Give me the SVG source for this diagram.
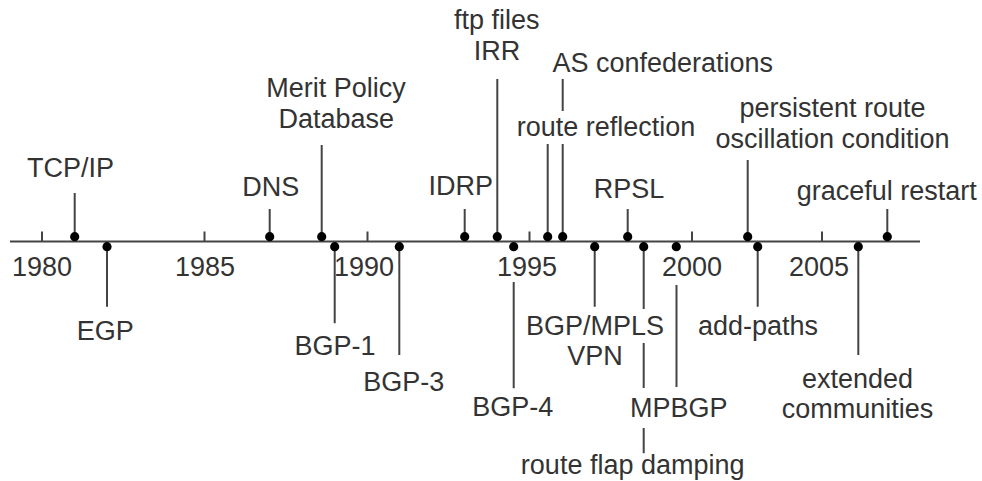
<svg xmlns="http://www.w3.org/2000/svg" width="982" height="481" viewBox="0 0 982 481">
<style>
text{font-family:"Liberation Sans",Arial,sans-serif;font-size:27px;fill:#333;text-anchor:middle}
.ln{stroke:#444;stroke-width:2;fill:none}
.dot{fill:#000}
</style>
<rect width="982" height="481" fill="#fff"/>
<g id="axis">
<line class="ln" x1="10" y1="241.5" x2="920" y2="241.5"/>
<path class="ln" d="M42 231.5V241.5M204.5 231.5V241.5M367.5 231.5V241.5M529.5 231.5V241.5M692 231.5V241.5M822 231.5V241.5"/>
<text x="42" y="276">1980</text>
<text x="205" y="276">1985</text>
<text x="364" y="276">1990</text>
<text x="527" y="276">1995</text>
<text x="692" y="276">2000</text>
<text x="819" y="276">2005</text>
</g>
<g id="connectors">
<path class="ln" d="M74.7 193V236.7M269.7 209V236.7M321.7 145V236.7M464.7 209V236.7M497.3 79V236.7M547.7 144V236.7M562.7 79V111M562.7 144V236.7M627.7 209V236.7M747.7 160V236.7M887.3 209V236.7"/>
<path class="ln" d="M107 246.7V306.7M334.7 246.7V323.3M399.3 246.7V355M513.7 282V388.3M594.7 246.7V306.7M643.7 246.7V309M643.7 343V388M643.7 428V453.3M676.5 285V387M757.7 246.7V306.7M858.3 246.7V355"/>
</g>
<g id="n-tcpip"><circle class="dot" cx="74.7" cy="236.7" r="4.6"/><text x="70.5" y="176.7">TCP/IP</text></g>
<g id="n-egp"><circle class="dot" cx="107" cy="246.7" r="4.6"/><text x="105.3" y="339.5">EGP</text></g>
<g id="n-dns"><circle class="dot" cx="269.7" cy="236.7" r="4.6"/><text x="270.8" y="196">DNS</text></g>
<g id="n-merit"><circle class="dot" cx="321.7" cy="236.7" r="4.6"/><text x="336" y="97.3">Merit Policy</text><text x="336.3" y="127.7">Database</text></g>
<g id="n-bgp1"><circle class="dot" cx="334.7" cy="246.7" r="4.6"/><text x="335" y="355">BGP-1</text></g>
<g id="n-bgp3"><circle class="dot" cx="399.3" cy="246.7" r="4.6"/><text x="403.7" y="390.7">BGP-3</text></g>
<g id="n-idrp"><circle class="dot" cx="464.7" cy="236.7" r="4.6"/><text x="460.8" y="195">IDRP</text></g>
<g id="n-irr"><circle class="dot" cx="497.3" cy="236.7" r="4.6"/><text x="496.7" y="29.3">ftp files</text><text x="497" y="60">IRR</text></g>
<g id="n-bgp4"><circle class="dot" cx="513.7" cy="246.7" r="4.6"/><text x="512.7" y="416">BGP-4</text></g>
<g id="n-rr"><circle class="dot" cx="547.7" cy="236.7" r="4.6"/><text x="606" y="136">route reflection</text></g>
<g id="n-asconf"><circle class="dot" cx="562.7" cy="236.7" r="4.6"/><text x="662.8" y="71.7">AS confederations</text></g>
<g id="n-vpn"><circle class="dot" cx="594.7" cy="246.7" r="4.6"/><text x="595" y="335">BGP/MPLS</text><text x="595" y="365">VPN</text></g>
<g id="n-rpsl"><circle class="dot" cx="627.7" cy="236.7" r="4.6"/><text x="629" y="198">RPSL</text></g>
<g id="n-rfd"><circle class="dot" cx="643.7" cy="246.7" r="4.6"/><text x="632.7" y="474">route flap damping</text></g>
<g id="n-mpbgp"><circle class="dot" cx="676.3" cy="246.7" r="4.6"/><text x="678.7" y="416.5">MPBGP</text></g>
<g id="n-persist"><circle class="dot" cx="747.7" cy="236.7" r="4.6"/><text x="832.5" y="117.3">persistent route</text><text x="832.5" y="148.3">oscillation condition</text></g>
<g id="n-addpaths"><circle class="dot" cx="757.7" cy="246.7" r="4.6"/><text x="758" y="335">add-paths</text></g>
<g id="n-extcomm"><circle class="dot" cx="858.3" cy="246.7" r="4.6"/><text x="857.5" y="388.3">extended</text><text x="857.5" y="418.3">communities</text></g>
<g id="n-graceful"><circle class="dot" cx="887.3" cy="236.7" r="4.6"/><text x="886.7" y="200">graceful restart</text></g>
</svg>
